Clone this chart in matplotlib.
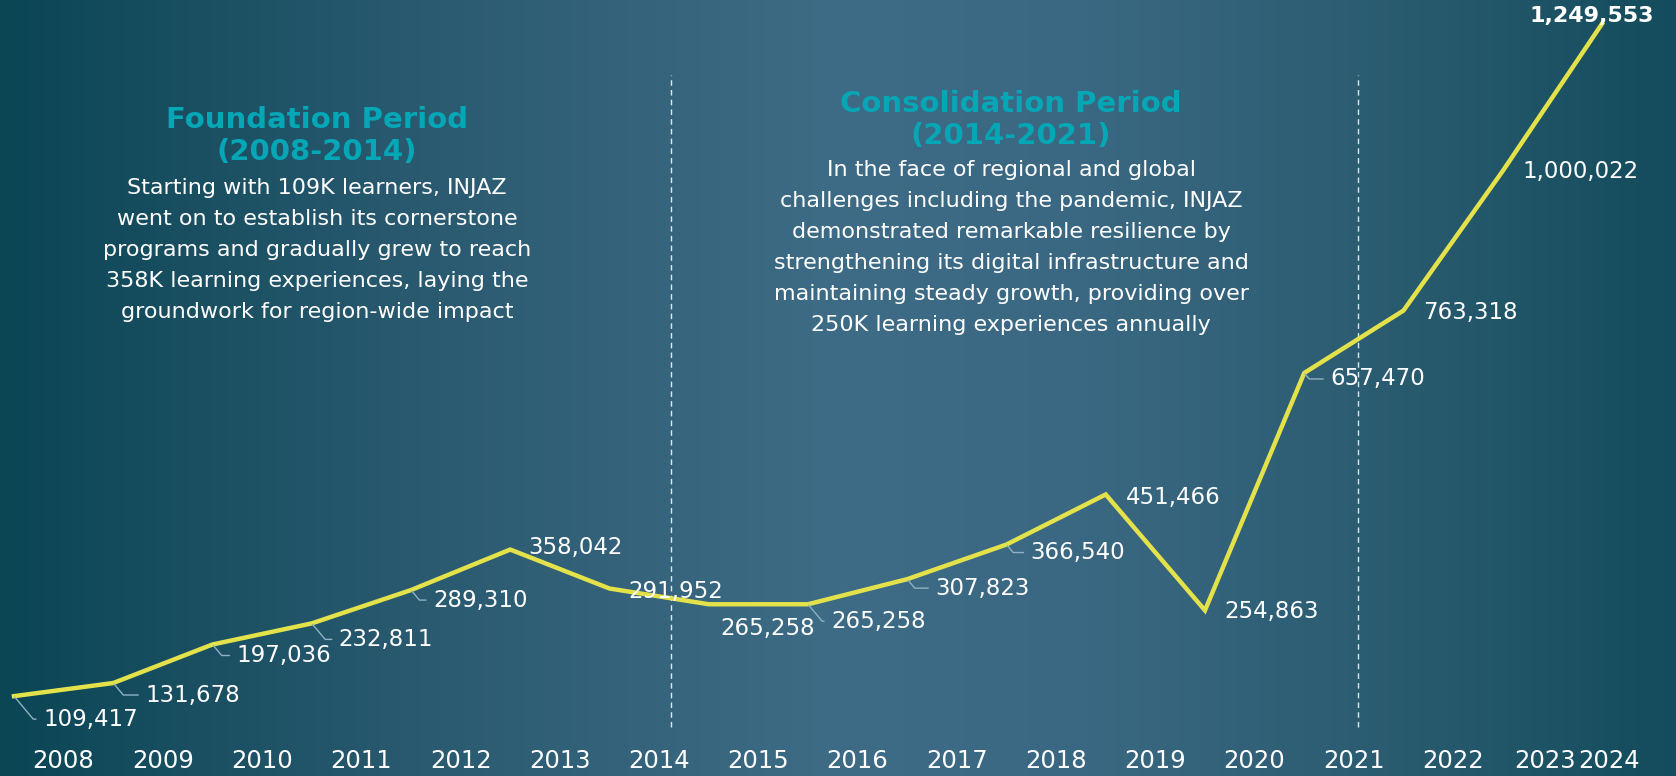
import numpy as np
import matplotlib.pyplot as plt
from matplotlib.colors import LinearSegmentedColormap

# data
years = ['2008', '2009', '2010', '2011', '2012', '2013', '2014', '2015', '2016',
         '2017', '2018', '2019', '2020', '2021', '2022', '2023', '2024']
learners = [109417, 131678, 197036, 232811, 289310, 358042, 291952, 265258, 265258,
            307823, 366540, 451466, 254863, 657470, 763318, 1000022, 1249553]

# label offsets (pixels, dx right / dy down) and whether a leader line is drawn
offsets = [(29, 23), (32, 12), (24, 11), (27, 16), (22, 10), (18, -2), (19, 3), (12, 24),
           (23, 17), (28, 9), (24, 8), (20, 3), (19, 1), (26, 6), (20, 2), (20, 1), (-10, -8)]
leader = [1, 1, 1, 1, 1, 0, 0, 0, 1, 1, 1, 0, 0, 1, 0, 0, 0]

W, H = 1676, 776
plt.rcParams['font.family'] = ['DejaVu Sans']

fig = plt.figure(figsize=(W / 100, H / 100), dpi=100)
ax = fig.add_axes([0, 0, 1, 1])

x = np.arange(len(learners))
xlim = (-0.141, 16.746)
ylim = (-26000, 1290000)

# background gradient
bg = LinearSegmentedColormap.from_list('bg', [(0, '#0b4655'), (0.25, '#2a5a70'), (0.5, '#3e6c86'),
                                              (0.65, '#3a6882'), (0.85, '#285a6e'), (1, '#134c5c')])
grad = np.linspace(0, 1, 512).reshape(1, -1)
ax.imshow(grad, cmap=bg, aspect='auto', extent=(xlim[0], xlim[1], ylim[0], ylim[1]), zorder=0)

ax.plot(x, learners, color='#e4e24a', lw=3.2, solid_joinstyle='miter', zorder=3)

for xi, v, (dx, dy), ld in zip(x, learners, offsets, leader):
    txt = f'{v:,}'
    last = xi == len(learners) - 1
    kw = dict(xy=(xi, v), xytext=(dx, -dy), textcoords='offset pixels',
              color='white', va='center', zorder=4)
    if last:
        ax.annotate(txt, ha='center', fontweight='bold', fontsize=16, **kw)
        continue
    if ld:
        kw['arrowprops'] = dict(arrowstyle='-', color='#8fb1c2', lw=1, relpos=(0, 0.5),
                                shrinkA=3, shrinkB=1,
                                connectionstyle='angle,angleA=0,angleB=-50,rad=0')
    ax.annotate(txt, ha='left', fontsize=16.5, **kw)

# period dividers
for xd in [6.62, 13.54]:
    ax.axvline(xd, ymin=0.063, ymax=0.903, color='white', lw=1, ls=(0, (4, 3)), alpha=0.85, zorder=2)

# year labels
year_x = np.arange(len(years)) + 0.5
year_x[-2] = 15.43
year_x[-1] = 16.07
for yx, yr in zip(year_x, years):
    ax.text(yx, 0.019, yr, transform=ax.get_xaxis_transform(), ha='center', va='center',
            color='white', fontsize=17.5)

ax.set_xlim(*xlim)
ax.set_ylim(*ylim)
ax.axis('off')

teal = '#05a6b6'


def block(cx, y_titles, title_lines, y_body, dy_body, body_lines):
    for yy, t in zip(y_titles, title_lines):
        fig.text(cx / W, 1 - yy / H, t, ha='center', va='center', color=teal,
                 fontsize=21, fontweight='bold')
    for i, t in enumerate(body_lines):
        fig.text(cx / W, 1 - (y_body + i * dy_body) / H, t, ha='center', va='center',
                 color='white', fontsize=16)


block(317, [120, 152], ['Foundation Period', '(2008-2014)'], 188, 31,
      ['Starting with 109K learners, INJAZ',
       'went on to establish its cornerstone',
       'programs and gradually grew to reach',
       '358K learning experiences, laying the',
       'groundwork for region-wide impact'])

block(1011, [104, 136], ['Consolidation Period', '(2014-2021)'], 170, 31,
      ['In the face of regional and global',
       'challenges including the pandemic, INJAZ',
       'demonstrated remarkable resilience by',
       'strengthening its digital infrastructure and',
       'maintaining steady growth, providing over',
       '250K learning experiences annually'])

fig.savefig('out.png', dpi=100)
